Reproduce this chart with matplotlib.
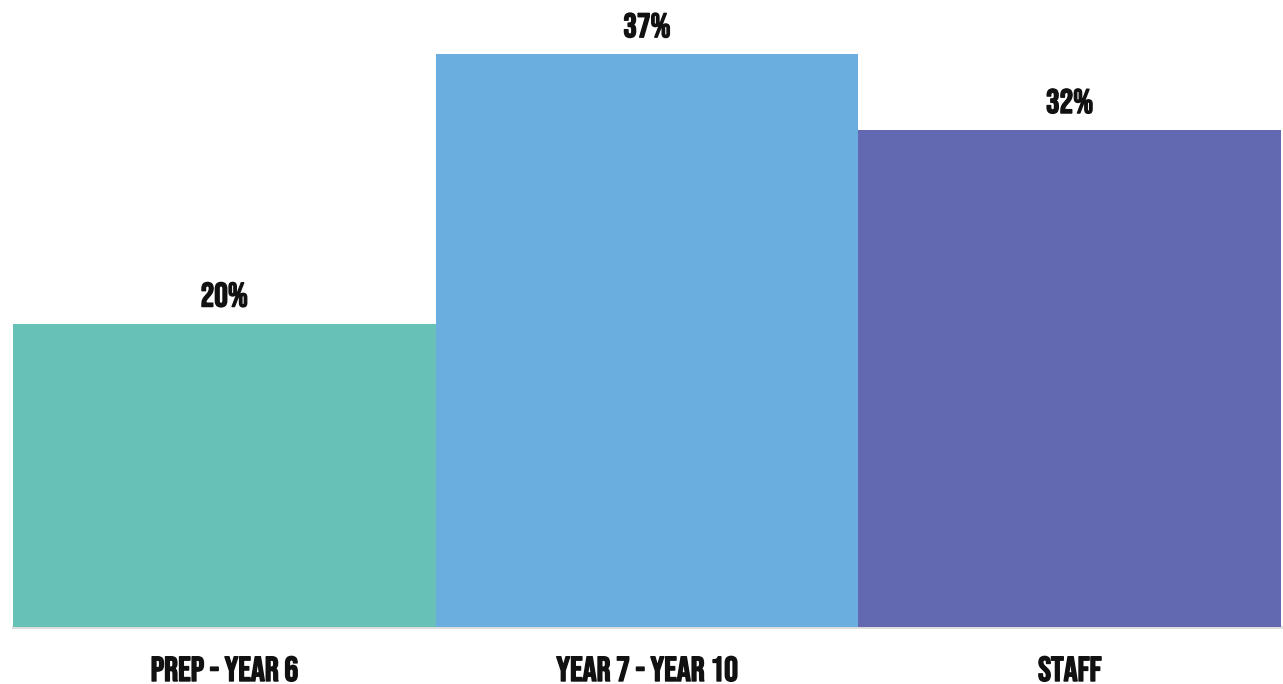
import matplotlib
matplotlib.use("Agg")
import matplotlib.pyplot as plt
import matplotlib.patheffects as pe

categories = ["PREP - YEAR 6", "YEAR 7 - YEAR 10", "STAFF"]
values = [19.6, 37.0, 32.1]
colors = ["#67C1B7", "#6AADDF", "#6369B0"]

W, H = 1283, 684
fig = plt.figure(figsize=(W / 100, H / 100), dpi=100)
ax = fig.add_axes([13 / W, 57 / H, 1268 / W, 627 / H])
fam = ["Bebas Neue", "DejaVu Sans"]
px = 72 / 100  # points per pixel
fx = [pe.withStroke(linewidth=1.0, foreground="#111111")]

x = list(range(len(categories)))
ax.bar(x, values, width=1.0, color=colors, align="center")
ax.set_xlim(-0.5, len(categories) - 0.5)
ax.set_ylim(0, 40.5)
ax.axhline(0, color="#DCDCDC", lw=2.0, zorder=0, clip_on=False)

for xi, v in zip(x, values):
    ax.annotate(f"{v:.0f}%", (xi, v), xytext=(0, 17 * px), textcoords="offset points",
                ha="center", va="baseline", fontsize=24.5,
                family=fam, color="#111111", path_effects=fx)

ax.set_xticks(x)
ax.set_xticklabels(categories, fontsize=25, family=fam, color="#111111",
                   va="baseline", path_effects=fx)
ax.tick_params(axis="x", length=0, pad=54 * px)
ax.set_yticks([])
for s in ax.spines.values():
    s.set_visible(False)

fig.savefig("out.png", dpi=100)
